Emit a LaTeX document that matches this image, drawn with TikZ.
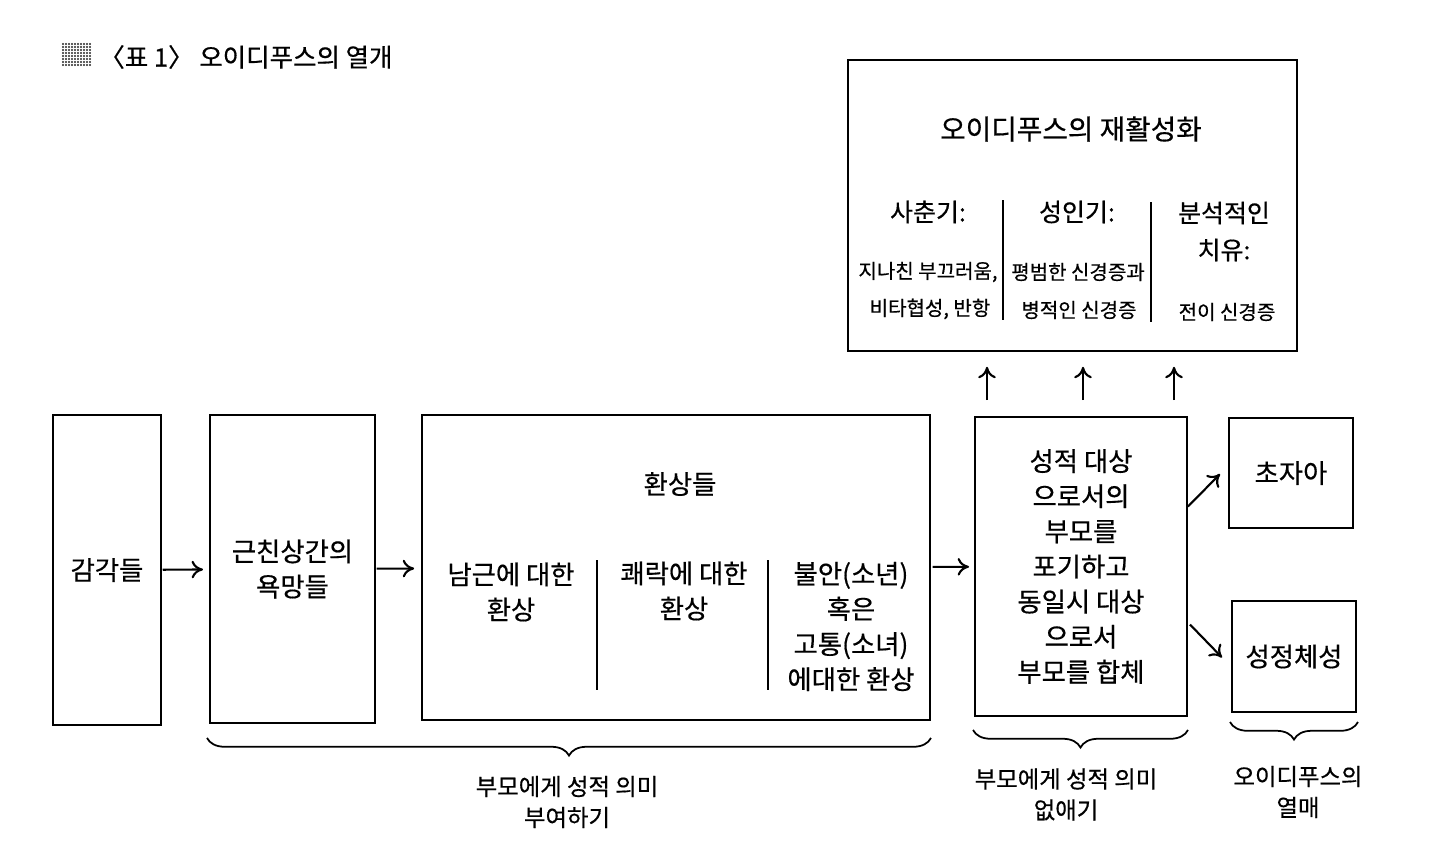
\documentclass[tikz,border=0pt]{standalone}
\usepackage{fontspec}
\setmainfont{Noto Sans CJK KR}[FakeBold=0.5]
\usepackage{tikz}
\usetikzlibrary{arrows.meta,calc,decorations.pathreplacing}

\newcommand{\txtmain}{\fontsize{15}{20}\selectfont}
\newcommand{\txthead}{\fontsize{15.8}{20}\selectfont}
\newcommand{\txtsub}{\fontsize{14.2}{21}\selectfont}
\newcommand{\txtsmall}{\fontsize{11.4}{14}\selectfont}
\newcommand{\txtnote}{\fontsize{13.3}{17.6}\selectfont}
\newcommand{\txttitle}{\fontsize{14.5}{16}\selectfont}

\tikzset{
  box/.style={draw, line width=1.1pt, inner sep=0pt, outer sep=0pt, align=center},
  flow/.style={->, line width=1.2pt},
  divider/.style={line width=1.1pt},
  brc/.style={decorate, line width=1pt,
              decoration={brace, mirror, amplitude=10pt}},
}

\begin{document}
\begin{tikzpicture}[x=0.02cm, y=-0.02cm, >={To[length=6.5pt,width=10pt]}, font=\txtmain]

  \useasboundingbox (0,0) rectangle (1440,843);

  %--- Title ---------------------------------------------------------------
  \foreach \i in {0,...,9}
    \foreach \j in {0,...,7}
      \fill[black!85] (63+3*\i, 44+3*\j) circle (0.6pt);
  \node[anchor=west, inner sep=0pt, font=\txttitle] (title) at (99,57)
       {〈표 1〉 오이디푸스의 열개};

  %--- Lower row of boxes --------------------------------------------------
  \node[box, minimum width=2.16cm, minimum height=6.2cm]  (senses)  at (107,570)   {감각들};
  \node[box, minimum width=3.3cm,  minimum height=6.16cm] (desires) at (292.5,569) {근친상간의\\욕망들};
  \node[box, minimum width=10.16cm, minimum height=6.1cm] (fantasies) at (676,567.5) {};
  \node[box, minimum width=4.24cm, minimum height=5.98cm] (giveup)  at (1081,566.5)
       {성적 대상\\으로서의\\부모를\\포기하고\\동일시 대상\\으로서\\부모를 합체};
  \node[box, minimum width=2.48cm, minimum height=2.2cm]  (superego) at (1291,473)  {초자아};
  \node[box, minimum width=2.48cm, minimum height=2.22cm] (identity) at (1294,656.5) {성정체성};

  %--- Inside the fantasies box --------------------------------------------
  \node (fanttitle) at (680,484) {환상들};
  \node[align=center] (phallic)  at (511,592)   {남근에 대한\\환상};
  \node[align=center] (pleasure) at (684,591)   {쾌락에 대한\\환상};
  \node[align=center] (anxiety)  at (851,626.5) {불안(소년)\\혹은\\고통(소녀)\\에대한 환상};
  \draw[divider] (597,560) -- (597,690);
  \draw[divider] (768,560) -- (768,690);

  %--- Reactivation box ----------------------------------------------------
  \node[box, minimum width=8.98cm, minimum height=5.82cm] (revival) at (1072.5,205.5) {};
  \node[font=\txthead] (revtitle) at (1071,129) {오이디푸스의 재활성화};
  \node[font=\txtsub] (puberty) at (928,212) {사춘기:};
  \node[font=\txtsmall] (puberty1) at (928,272) {지나친 부끄러움,};
  \node[font=\txtsmall] (puberty2) at (930,309) {비타협성, 반항};
  \node[font=\txtsub] (adult) at (1077,212) {성인기:};
  \node[font=\txtsmall] (adult1) at (1078,272) {평범한 신경증과};
  \node[font=\txtsmall] (adult2) at (1079,310) {병적인 신경증};
  \node[font=\txtsub, align=center] (cure) at (1224,231.5) {분석적인\\치유:};
  \node[font=\txtsmall] (cure1) at (1227,312) {전이 신경증};
  \draw[divider] (1003,200) -- (1003,320);
  \draw[divider] (1151,202) -- (1151,322);

  %--- Arrows --------------------------------------------------------------
  \draw[flow, shorten <=1pt, shorten >=4pt]   (senses)    -- (desires);
  \draw[flow, shorten <=1pt, shorten >=4.5pt] (desires)   -- (fantasies);
  \draw[flow, shorten <=1.5pt, shorten >=3.4pt] (fantasies) -- (giveup);
  \draw[flow] ($(giveup.east)+(1,-60)$) -- ($(superego.west)+(-9,1)$);
  \draw[flow] ($(giveup.east)+(3,58)$)  -- ($(identity.west)+(-10,1)$);
  \foreach \xx in {987,1083,1174} {
    \coordinate (up\xx) at (\xx,0);
    \draw[flow, shorten <=9.6pt, shorten >=9pt]
         (giveup.north -| up\xx) -- (revival.south -| up\xx);
  }

  %--- Braces and their labels ---------------------------------------------
  \draw[brc] ($(desires.south west)+(-3,15)$) -- ($(fantasies.south east)+(1,18)$);
  \draw[brc] ($(giveup.south west)+(-2,14)$)  -- ($(giveup.south east)+(1,14)$);
  \draw[brc] ($(identity.south west)+(-2,10)$) -- ($(identity.south east)+(2,10)$);
  \node[font=\txtnote, align=center] (givemeaning)   at (567,802)   {부모에게 성적 의미\\부여하기};
  \node[font=\txtnote, align=center] (removemeaning) at (1066,794.5) {부모에게 성적 의미\\없애기};
  \node[font=\txtnote, align=center] (fruit)         at (1298,792)  {오이디푸스의\\열매};

\end{tikzpicture}
\end{document}
